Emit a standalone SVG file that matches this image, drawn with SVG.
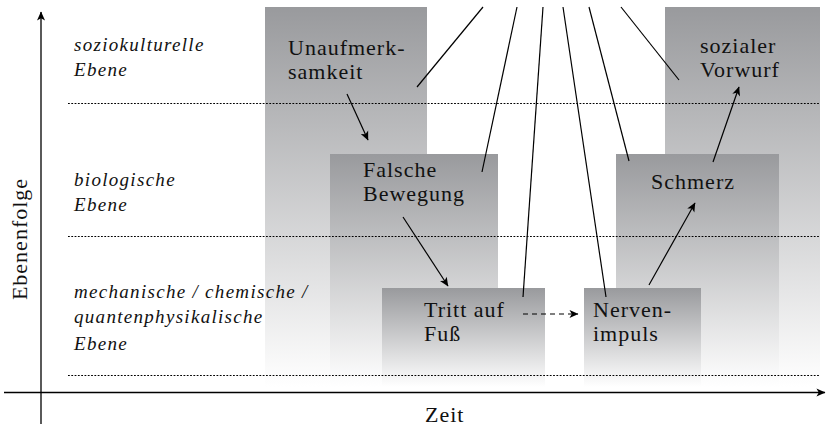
<svg xmlns="http://www.w3.org/2000/svg" width="826" height="427" viewBox="0 0 826 427">
  <defs>
    <linearGradient id="shade" x1="0" y1="0" x2="0" y2="1">
      <stop offset="0" stop-color="#999a9d"/>
      <stop offset="1" stop-color="#ffffff"/>
    </linearGradient>
    <marker id="head" viewBox="0 0 10 10" refX="9.5" refY="5" markerWidth="10" markerHeight="9" markerUnits="userSpaceOnUse" orient="auto">
      <path d="M0,0.5 L10,5 L0,9.5 L2.6,5 Z" fill="#000"/>
    </marker>
    <style>
      .box { fill: url(#shade); }
      .node { font-family: "Liberation Serif", "Times New Roman", serif; font-size: 22px; letter-spacing: 1px; fill: #111; }
      .lvl { font-family: "Liberation Serif", "Times New Roman", serif; font-style: italic; font-size: 19px; letter-spacing: 1.3px; fill: #111; }
      .axis { stroke: #000; stroke-width: 1.3; fill: none; }
      .sep { stroke: #000; stroke-width: 1.1; stroke-dasharray: 1.8 1.5; fill: none; }
      .link { stroke: #000; stroke-width: 1.2; fill: none; }
      .arrow { stroke: #000; stroke-width: 1.2; fill: none; marker-end: url(#head); }
      .dashed { stroke-dasharray: 5 4; }
    </style>
  </defs>

  <rect width="826" height="427" fill="#ffffff"/>

  <!-- causal chain: left side -->
  <g id="unaufmerksamkeit">
    <rect class="box" x="265" y="7" width="162" height="380"/>
    <text class="node"><tspan x="288" y="55">Unaufmerk-</tspan><tspan x="288" y="79">samkeit</tspan></text>
  </g>
  <g id="falsche-bewegung">
    <rect class="box" x="330" y="154" width="168" height="233"/>
    <text class="node"><tspan x="363" y="177">Falsche</tspan><tspan x="363" y="201">Bewegung</tspan></text>
  </g>
  <g id="tritt-auf-fuss">
    <rect class="box" x="382" y="288" width="163" height="99"/>
    <text class="node"><tspan x="424" y="317">Tritt auf</tspan><tspan x="424" y="341">Fuß</tspan></text>
  </g>

  <!-- causal chain: right side -->
  <g id="sozialer-vorwurf">
    <rect class="box" x="665" y="7" width="155" height="380"/>
    <text class="node"><tspan x="700" y="53">sozialer</tspan><tspan x="700" y="77">Vorwurf</tspan></text>
  </g>
  <g id="schmerz">
    <rect class="box" x="616" y="154" width="163" height="233"/>
    <text class="node" x="651" y="189">Schmerz</text>
  </g>
  <g id="nervenimpuls">
    <rect class="box" x="584" y="288" width="117" height="99"/>
    <text class="node"><tspan x="593" y="317">Nerven-</tspan><tspan x="593" y="341">impuls</tspan></text>
  </g>

  <!-- level separators -->
  <g id="levels">
    <line class="sep" x1="68" y1="103.5" x2="819" y2="103.5"/>
    <line class="sep" x1="68" y1="236.5" x2="819" y2="236.5"/>
    <line class="sep" x1="68" y1="375.5" x2="819" y2="375.5"/>
    <text class="lvl"><tspan x="74" y="51">soziokulturelle</tspan><tspan x="74" y="76">Ebene</tspan></text>
    <text class="lvl"><tspan x="74" y="186">biologische</tspan><tspan x="74" y="211">Ebene</tspan></text>
    <text class="lvl"><tspan x="74" y="298">mechanische / chemische /</tspan><tspan x="74" y="323">quantenphysikalische</tspan><tspan x="74" y="350">Ebene</tspan></text>
  </g>

  <!-- axes -->
  <g id="axes">
    <line class="axis" x1="41" y1="424" x2="41" y2="12" marker-end="url(#head)"/>
    <line class="axis" x1="4" y1="392.5" x2="825" y2="392.5" marker-end="url(#head)"/>
    <text class="node" x="425" y="422" letter-spacing="0.5">Zeit</text>
    <text class="node" font-size="21" letter-spacing="0.8" transform="translate(27,239) rotate(-90)" text-anchor="middle">Ebenenfolge</text>
  </g>

  <!-- connectors -->
  <g id="connectors">
    <line class="link" x1="483" y1="7" x2="417" y2="87"/>
    <line class="link" x1="517" y1="7" x2="482" y2="172"/>
    <line class="link" x1="543" y1="7" x2="523" y2="297"/>
    <line class="link" x1="563" y1="7" x2="606" y2="297"/>
    <line class="link" x1="589" y1="7" x2="629" y2="161"/>
    <line class="link" x1="621" y1="7" x2="679" y2="80"/>

    <line class="arrow" x1="347" y1="94" x2="368" y2="140"/>
    <line class="arrow" x1="403" y1="217" x2="448" y2="286"/>
    <line class="arrow dashed" x1="523" y1="314" x2="578" y2="314"/>
    <line class="arrow" x1="649" y1="285" x2="695" y2="203"/>
    <line class="arrow" x1="713" y1="162" x2="739" y2="87"/>
  </g>
</svg>
